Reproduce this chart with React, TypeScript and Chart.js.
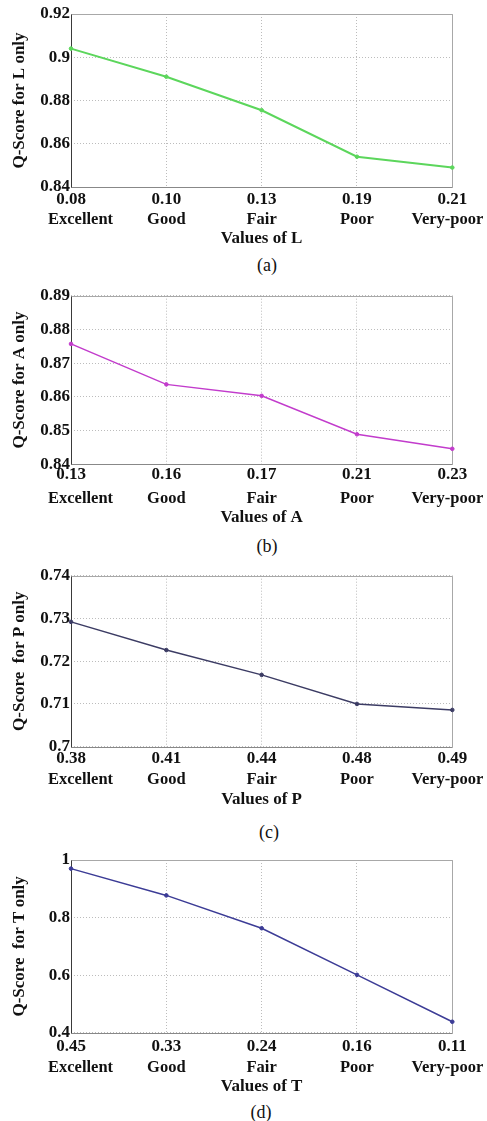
import React, { useEffect, useRef } from "react";
import { Chart, registerables } from "chart.js";

Chart.register(...registerables);

// ---------------- data ----------------
const quality = ["Excellent", "Good", "Fair", "Poor", "Very-poor"];

const valuesL = ["0.08", "0.10", "0.13", "0.19", "0.21"];
const scoreL = [0.904, 0.891, 0.8755, 0.854, 0.849];
const yTicksL = [0.84, 0.86, 0.88, 0.9, 0.92];

const valuesA = ["0.13", "0.16", "0.17", "0.21", "0.23"];
const scoreA = [0.8757, 0.8637, 0.8603, 0.8489, 0.8446];
const yTicksA = [0.84, 0.85, 0.86, 0.87, 0.88, 0.89];

const valuesP = ["0.38", "0.41", "0.44", "0.48", "0.49"];
const scoreP = [0.7292, 0.7226, 0.7168, 0.71, 0.7086];
const yTicksP = [0.7, 0.71, 0.72, 0.73, 0.74];

const valuesT = ["0.45", "0.33", "0.24", "0.16", "0.11"];
const scoreT = [0.97, 0.877, 0.763, 0.601, 0.438];
const yTicksT = [0.4, 0.6, 0.8, 1];

// ---------------- style ----------------
const FAMILY = "'Liberation Serif', 'Times New Roman', serif";
const TEXT = "#111";
const GRID = "#bcbcbc";
const FS = 17;
const HALF_LH = (FS * 1.2) / 2;

type PanelDef = {
  xLabels: string[];
  scores: number[];
  yTicks: number[];
  xTitle: string;
  yTitle: string;
  caption: string;
  color: string;
  lineWidth: number;
  canvasTop: number;
  plotTop: number;
  plotBottom: number;
  plotLeft: number;
  plotRight: number;
  tickY: number;
  catY: number;
  titleY: number;
  captionY: number;
  captionX: number;
};

const panels: PanelDef[] = [
  {
    xLabels: valuesL, scores: scoreL, yTicks: yTicksL,
    xTitle: "Values of L", yTitle: "Q-Score for L only", caption: "(a)",
    color: "#5cd65c", lineWidth: 2,
    canvasTop: 0, plotTop: 14, plotBottom: 187, plotLeft: 71, plotRight: 452.3,
    tickY: 200, catY: 220, titleY: 239, captionY: 265, captionX: 267,
  },
  {
    xLabels: valuesA, scores: scoreA, yTicks: yTicksA,
    xTitle: "Values of A", yTitle: "Q-Score for A only", caption: "(b)",
    color: "#c23ccc", lineWidth: 1.5,
    canvasTop: 272, plotTop: 295.7, plotBottom: 464.3, plotLeft: 71, plotRight: 452.3,
    tickY: 475, catY: 499, titleY: 518, captionY: 546, captionX: 267,
  },
  {
    xLabels: valuesP, scores: scoreP, yTicks: yTicksP,
    xTitle: "Values of P", yTitle: "Q-Score  for P only", caption: "(c)",
    color: "#3c3c64", lineWidth: 1.5,
    canvasTop: 556, plotTop: 575.7, plotBottom: 746.7, plotLeft: 71, plotRight: 452.3,
    tickY: 758.3, catY: 779.3, titleY: 799.3, captionY: 832, captionX: 269,
  },
  {
    xLabels: valuesT, scores: scoreT, yTicks: yTicksT,
    xTitle: "Values of T", yTitle: "Q-Score  for T only", caption: "(d)",
    color: "#3c3c96", lineWidth: 1.5,
    canvasTop: 842, plotTop: 860, plotBottom: 1032.7, plotLeft: 71, plotRight: 452.3,
    tickY: 1046.7, catY: 1067.7, titleY: 1086.7, captionY: 1112, captionX: 261,
  },
];

const framePlugin = {
  id: "frame",
  beforeDatasetsDraw(chart: any) {
    const { ctx, chartArea } = chart;
    const l = Math.round(chartArea.left) + 0.5;
    const r = Math.round(chartArea.right) + 0.5;
    const t = Math.round(chartArea.top) + 0.5;
    const b = Math.round(chartArea.bottom) + 0.5;
    ctx.save();
    ctx.lineWidth = 1;
    ctx.setLineDash([]);
    ctx.strokeStyle = "#a8a8a8";
    ctx.beginPath();
    ctx.moveTo(l, t);
    ctx.lineTo(r, t);
    ctx.lineTo(r, b);
    ctx.stroke();
    ctx.strokeStyle = "#888";
    ctx.beginPath();
    ctx.moveTo(l, b);
    ctx.lineTo(r, b);
    ctx.stroke();
    ctx.strokeStyle = "#3a3a3a";
    ctx.beginPath();
    ctx.moveTo(l, t);
    ctx.lineTo(l, b);
    ctx.stroke();
    ctx.restore();
  },
};

function makeCategoryPlugin(p: PanelDef) {
  return {
    id: "categories",
    afterDraw(chart: any) {
      const { ctx, chartArea } = chart;
      const xs = chart.scales.x;
      ctx.save();
      ctx.font = `bold 16.5px ${FAMILY}`;
      ctx.fillStyle = TEXT;
      ctx.textAlign = "center";
      ctx.textBaseline = "middle";
      const y = chartArea.bottom + (p.catY - p.plotBottom);
      quality.forEach((txt, i) => {
        const w = ctx.measureText(txt).width;
        let x = xs.getPixelForTick(i);
        x = Math.max(x, chartArea.left - 23 + w / 2);
        x = Math.min(x, chartArea.right + 31 - w / 2);
        ctx.fillText(txt, x, y);
      });
      ctx.restore();
    },
  };
}

function Panel({ p }: { p: PanelDef }) {
  const ref = useRef<HTMLCanvasElement>(null);
  const H = Math.round(p.titleY + HALF_LH - p.canvasTop);
  useEffect(() => {
    if (!ref.current) return;
    const font = { family: FAMILY, size: FS, weight: "bold" as const, lineHeight: 1.2 };
    const chart = new Chart(ref.current, {
      type: "line",
      data: {
        labels: p.xLabels,
        datasets: [
          {
            data: p.scores,
            borderColor: p.color,
            backgroundColor: p.color,
            pointBackgroundColor: p.color,
            pointBorderColor: p.color,
            pointRadius: 1.8,
            pointBorderWidth: 1,
            borderWidth: p.lineWidth,
            tension: 0,
            fill: false,
          },
        ],
      },
      options: {
        responsive: false,
        animation: false,
        devicePixelRatio: 1,
        layout: {
          padding: { left: 0, right: 487 - p.plotRight, top: p.plotTop - p.canvasTop, bottom: 0 },
        },
        plugins: {
          legend: { display: false },
          tooltip: { enabled: false },
          title: { display: false },
        },
        scales: {
          x: {
            type: "category",
            offset: false,
            grid: { color: GRID, lineWidth: 1, drawTicks: false },
            border: { display: false, dash: [1, 2] },
            ticks: {
              color: TEXT,
              font,
              padding: p.tickY - p.plotBottom - HALF_LH,
              maxRotation: 0,
              autoSkip: false,
            },
            title: {
              display: true,
              text: p.xTitle,
              color: TEXT,
              font,
              padding: { top: 0, bottom: 0 },
            },
            afterFit: (s: any) => {
              s.height = H - (p.plotBottom - p.canvasTop);
            },
          },
          y: {
            type: "linear",
            min: p.yTicks[0],
            max: p.yTicks[p.yTicks.length - 1],
            afterBuildTicks: (s: any) => {
              s.ticks = p.yTicks.map((v) => ({ value: v }));
            },
            grid: { color: GRID, lineWidth: 1, drawTicks: false },
            border: { display: false, dash: [1, 2] },
            ticks: {
              color: TEXT,
              font,
              padding: 1,
              callback: (v: any) => String(v),
            },
            title: {
              display: true,
              text: p.yTitle,
              color: TEXT,
              font,
              padding: { top: 19.5 - HALF_LH, bottom: 0 },
            },
            afterFit: (s: any) => {
              s.width = p.plotLeft;
            },
          },
        },
      },
      plugins: [framePlugin, makeCategoryPlugin(p)],
    });
    return () => chart.destroy();
  }, []);
  return (
    <canvas
      ref={ref}
      width={487}
      height={H}
      style={{ position: "absolute", left: 0, top: p.canvasTop, width: 487, height: H, display: "block" }}
    />
  );
}

export default function App() {
  return (
    <div style={{ position: "absolute", left: 0, top: 0, width: 487, height: 1121, background: "#fff" }}>
      {panels.map((p, i) => (
        <React.Fragment key={i}>
          <Panel p={p} />
          <div
            style={{
              position: "absolute",
              left: p.captionX - 50,
              width: 100,
              top: p.captionY - 11,
              height: 22,
              lineHeight: "22px",
              textAlign: "center",
              fontFamily: FAMILY,
              fontSize: 18,
              color: TEXT,
            }}
          >
            {p.caption}
          </div>
        </React.Fragment>
      ))}
    </div>
  );
}
